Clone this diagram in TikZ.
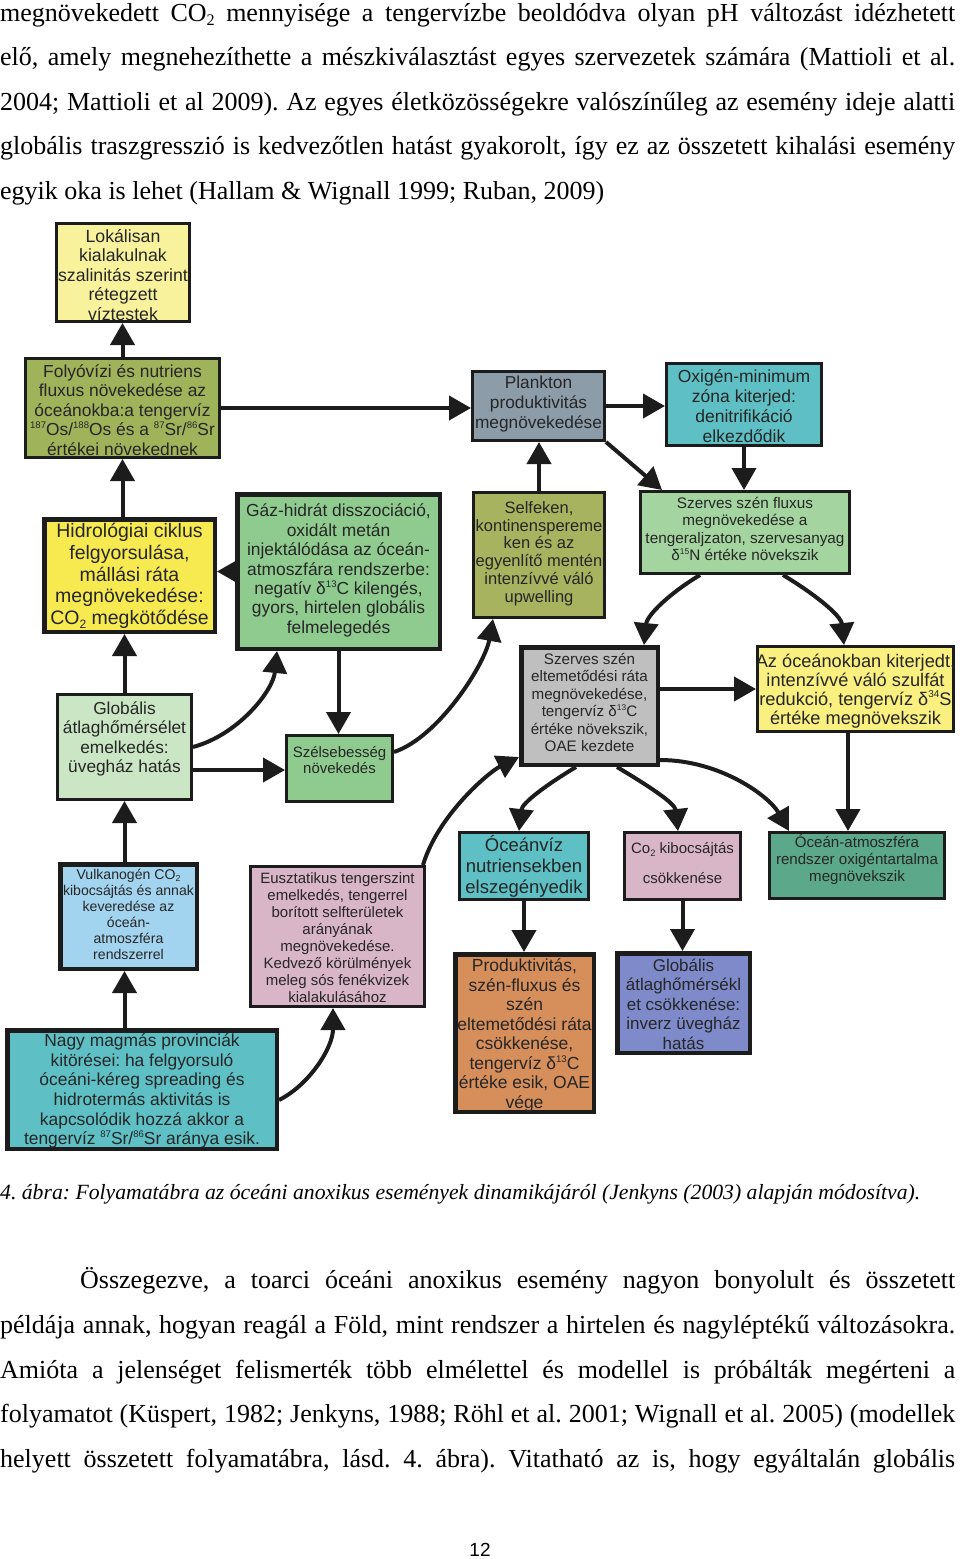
\documentclass[tikz,border=0pt]{standalone}
\usepackage{fontspec}
\setmainfont{Liberation Serif}
\setsansfont{Liberation Sans}
\usepackage{graphicx}
\usetikzlibrary{arrows.meta,calc}
\frenchspacing
\definecolor{bordc}{HTML}{1C1C1C}
\definecolor{txtc}{HTML}{262626}
\definecolor{cLok}{HTML}{F9F29D}
\definecolor{cFoly}{HTML}{9FB35A}
\definecolor{cPlank}{HTML}{8C9CA9}
\definecolor{cTeal}{HTML}{5EBFC4}
\definecolor{cSelf}{HTML}{A7B35E}
\definecolor{cFlux}{HTML}{A4D49F}
\definecolor{cHidro}{HTML}{F7EA50}
\definecolor{cGaz}{HTML}{8FCB8F}
\definecolor{cGlob}{HTML}{CBE6C4}
\definecolor{cGray}{HTML}{BFBFBF}
\definecolor{cAzoc}{HTML}{F9F07F}
\definecolor{cPink}{HTML}{D9B5C8}
\definecolor{cOcat}{HTML}{5BA98A}
\definecolor{cProd}{HTML}{D68E5B}
\definecolor{cPeri}{HTML}{7F8ACA}
\definecolor{cVulk}{HTML}{A3D4EF}
\newcommand{\supx}[1]{\raisebox{0.42em}{\scalebox{0.55}{#1}}}
\newcommand{\subx}[1]{\raisebox{-0.18em}{\scalebox{0.62}{#1}}}
\newcommand{\fs}[2]{\sffamily\fontsize{#1}{#2}\selectfont}
\newcommand{\bodyfont}{\fontsize{26}{26}\selectfont\spaceskip=6.5pt plus 5pt minus 2.6pt\relax}
\begin{document}
\begin{tikzpicture}[x=1pt,y=-1pt,
  bx/.style={draw=bordc, line width=3.2pt, inner sep=0pt, rectangle},
  bxk/.style={draw=bordc, line width=4.5pt, inner sep=0pt, rectangle},
  tx/.style={align=center, inner sep=0pt, text=txtc},
  arr/.style={draw=bordc, line width=4pt, -{Triangle[width=24pt,length=22pt]}},
  body/.style={anchor=base west, inner sep=0pt, font=\bodyfont, text=black}]
\useasboundingbox (0,0) rectangle (960,1559);
\fill[white] (0,0) rectangle (960,1559);

% ---------- body text ----------
\node[body] (l1) at (0,21) {\makebox[955pt][s]{megnövekedett CO\subx{2} mennyisége a tengervízbe beoldódva olyan pH változást idézhetett}};
\node[body] (l2) at (0,65.5) {\makebox[955pt][s]{elő, amely megnehezíthette a mészkiválasztást egyes szervezetek számára (Mattioli et al.}};
\node[body] (l3) at (0,110) {\makebox[955pt][s]{2004; Mattioli et al 2009). Az egyes életközösségekre valószínűleg az esemény ideje alatti}};
\node[body] (l4) at (0,154.5) {\makebox[955pt][s]{globális traszgresszió is kedvezőtlen hatást gyakorolt, így ez az összetett kihalási esemény}};
\node[body] (l5) at (0,199) {egyik oka is lehet (Hallam \& Wignall 1999; Ruban, 2009)};

\node[anchor=base west, inner sep=0pt] (cap) at (0,1199) {\resizebox{920pt}{!}{\itshape 4. ábra: Folyamatábra az óceáni anoxikus események dinamikájáról (Jenkyns (2003) alapján módosítva).}};

\node[body] (p1) at (80,1288) {\makebox[875pt][s]{Összegezve, a toarci óceáni anoxikus esemény nagyon bonyolult és összetett}};
\node[body] (p2) at (0,1333) {\makebox[955pt][s]{példája annak, hogyan reagál a Föld, mint rendszer a hirtelen és nagyléptékű változásokra.}};
\node[body] (p3) at (0,1378) {\makebox[955pt][s]{Amióta a jelenséget felismerték több elmélettel és modellel is próbálták megérteni a}};
\node[body] (p4) at (0,1422) {\makebox[955pt][s]{folyamatot (Küspert, 1982; Jenkyns, 1988; Röhl et al. 2001; Wignall et al. 2005) (modellek}};
\node[body] (p5) at (0,1467) {\makebox[955pt][s]{helyett összetett folyamatábra, lásd. 4. ábra). Vitatható az is, hogy egyáltalán globális}};
\node[anchor=base, inner sep=0pt, font=\fs{19}{19}] (pg) at (480,1556) {12};

% ---------- boxes ----------
\node[bx, fill=cLok, minimum width=132.8pt, minimum height=97.8pt] (lok) at (123,272.5) {};
\node[bx, fill=cFoly, minimum width=193.8pt, minimum height=98.8pt] (foly) at (122.5,408) {};
\node[bx, fill=cPlank, minimum width=131.8pt, minimum height=68.8pt] (plank) at (538.5,406) {};
\node[bx, fill=cTeal, minimum width=154.8pt, minimum height=81.8pt] (oxi) at (744,404.5) {};
\node[bx, fill=cFlux, minimum width=208.8pt, minimum height=81.8pt] (flux) at (745,532.5) {};
\node[bx, fill=cSelf, minimum width=130.8pt, minimum height=124.8pt] (self) at (539,555) {};
\node[bxk, fill=cHidro, minimum width=170.5pt, minimum height=112.5pt] (hidro) at (129.5,575.5) {};
\node[bxk, fill=cGaz, minimum width=202.5pt, minimum height=154.5pt] (gaz) at (338.5,571.5) {};
\node[bx, fill=cGlob, minimum width=133.8pt, minimum height=104.8pt] (glob) at (124.5,747) {};
\node[bx, fill=cGaz, minimum width=105.8pt, minimum height=65.8pt] (szel) at (339.5,768.5) {};
\node[bxk, fill=cGray, minimum width=136.5pt, minimum height=117.5pt] (gray) at (589.5,706) {};
\node[bx, fill=cAzoc, minimum width=195.8pt, minimum height=84.8pt] (azoc) at (855.5,689) {};
\node[bx, fill=cTeal, minimum width=128.8pt, minimum height=66.8pt] (ocv) at (524,866) {};
\node[bx, fill=cPink, minimum width=115.8pt, minimum height=66.8pt] (co2k) at (682.5,866) {};
\node[bx, fill=cOcat, minimum width=174.8pt, minimum height=65.8pt] (ocat) at (857,865.5) {};
\node[bxk, fill=cProd, minimum width=138.5pt, minimum height=157.5pt] (prod) at (524.5,1033) {};
\node[bxk, fill=cPeri, minimum width=132.5pt, minimum height=99.5pt] (globcs) at (683.5,1003) {};
\node[bxk, fill=cVulk, minimum width=136.5pt, minimum height=104.5pt] (vulk) at (128.5,916.5) {};
\node[bx, fill=cPink, minimum width=173.8pt, minimum height=139.8pt] (eusz) at (337.5,936.5) {};
\node[bxk, fill=cTeal, minimum width=269.5pt, minimum height=118.5pt] (nagy) at (142,1089.5) {};

% ---------- straight connectors ----------
\draw[arr] (foly.north) -- (foly.north |- lok.south);
\draw[arr] (hidro.north -| foly.south) -- (foly.south);
\draw[arr] (glob.north) -- (glob.north |- hidro.south);
\draw[arr] (vulk.north -| glob.south) -- (glob.south);
\draw[arr] (nagy.north -| glob.south) -- (vulk.south -| glob.south);
\draw[arr] (foly.east) -- (foly.east -| plank.west);
\draw[arr] (plank.east) -- (plank.east -| oxi.west);
\draw[arr] (oxi.south) -- (oxi.south |- flux.north);
\draw[arr] (self.north) -- (self.north |- plank.south);
\draw[arr] (gaz.west) -- (gaz.west -| hidro.east);
\coordinate (globr) at ($(glob.south east)+(0,-31)$);
\draw[arr] (globr) -- (globr -| szel.west);
\draw[arr] (gaz.south) -- (gaz.south |- szel.north);
\draw[arr] (azoc.west -| gray.east) -- (azoc.west);
\coordinate (azocb) at ($(azoc.south)+(-7.5,0)$);
\draw[arr] (azocb) -- (azocb |- ocat.north);
\draw[arr] (ocv.south) -- (ocv.south |- prod.north);
\draw[arr] (co2k.south) -- (co2k.south |- globcs.north);
\draw[arr] (plank.south east) -- ($(flux.north west)+(23,0)$);

% ---------- curved connectors ----------
\draw[arr] (glob.east) .. controls +(45,-12) and +(-4,40) .. ($(gaz.south west)+(42,0)$);
\draw[arr] ($(szel.north east)+(0,18)$) .. controls +(45,-15) and +(-8,45) .. ($(self.south west)+(21,0)$);
\draw[arr] ($(eusz.north east)+(-3,0)$) .. controls +(15,-50) and +(-30,15) .. ($(gray.south west)+(0,-10)$);
\draw[arr] ($(nagy.south east)+(0,-51)$) .. controls +(30,-15) and +(0,40) .. ($(eusz.south)+(-4.5,0)$);
\draw[arr] ($(flux.south west)+(61,0)$) .. controls +(-30,18) and +(3,-30) .. ($(gray.north east)+(-16,0)$);
\draw[arr] ($(flux.south west)+(144,0)$) .. controls +(30,18) and +(-3,-30) .. ($(azoc.north west)+(88,0)$);
\draw[arr] ($(gray.south west)+(57,0)$) .. controls +(-30,18) and +(3,-28) .. ($(ocv.north west)+(61,0)$);
\draw[arr] ($(gray.south west)+(98,0)$) .. controls +(30,18) and +(-3,-28) .. ($(co2k.north west)+(55,0)$);
\draw[arr] ($(gray.south east)+(0,-7)$) .. controls +(60,0) and +(-20,-35) .. ($(ocat.north west)+(21,0)$);

% ---------- box texts ----------
\node[tx, font=\fs{17.7}{19.5}] (lokt) at (123,275) {Lokálisan\\kialakulnak\\szalinitás szerint\\rétegzett\\víztestek};
\node[tx, font=\fs{17.4}{19.5}] (folyt) at (122.5,410) {Folyóvízi és nutriens\\fluxus növekedése az\\óceánokba:a tengervíz\\\supx{187}Os/\supx{188}Os és a \supx{87}Sr/\supx{86}Sr\\értékei növekednek};
\node[tx, font=\fs{17.3}{20}] (plankt) at (538.5,404.5) {Plankton\\produktivitás\\megnövekedése};
\node[tx, font=\fs{17.5}{20}] (oxit) at (744,406) {Oxigén-minimum\\zóna kiterjed:\\denitrifikáció\\elkezdődik};
\node[tx, font=\fs{15.3}{17.3}] (fluxt) at (745,529) {Szerves szén fluxus\\megnövekedése a\\tengeraljzaton, szervesanyag\\δ\supx{15}N értéke növekszik};
\node[tx, font=\fs{16.5}{17.8}] (selft) at (539,553.5) {Selfeken,\\kontinenspereme\\ken és az\\egyenlítő mentén\\intenzívvé váló\\upwelling};
\node[tx, font=\fs{19.5}{21.7}] (hidrot) at (129.5,576) {Hidrológiai ciklus\\felgyorsulása,\\mállási ráta\\megnövekedése:\\CO\subx{2} megkötődése};
\node[tx, font=\fs{17.4}{19.4}] (gazt) at (338.5,570.5) {Gáz-hidrát disszociáció,\\oxidált metán\\injektálódása az óceán-\\atmoszfára rendszerbe:\\negatív δ\supx{13}C kilengés,\\gyors, hirtelen globális\\felmelegedés};
\node[tx, font=\fs{17.3}{19.5}] (globt) at (124.5,739) {Globális\\átlaghőmérsélet\\emelkedés:\\üvegház hatás};
\node[tx, font=\fs{15}{15.5}] (szelt) at (339.5,760) {Szélsebesség\\növekedés};
\node[tx, font=\fs{15.2}{17.5}] (grayt) at (589.5,702.5) {Szerves szén\\eltemetődési ráta\\megnövekedése,\\tengervíz δ\supx{13}C\\értéke növekszik,\\OAE kezdete};
\node[tx, font=\fs{18.2}{19.2}] (azoct) at (855.5,691) {Az óceánokban kiterjedt,\\intenzívvé váló szulfát\\redukció, tengervíz δ\supx{34}S\\értéke megnövekszik};
\node[tx, font=\fs{18.5}{21}] (ocvt) at (524,866) {Óceánvíz\\nutriensekben\\elszegényedik};
\node[tx, font=\fs{15}{30}] (co2kt) at (682.5,863) {Co\subx{2} kibocsájtás\\csökkenése};
\node[tx, font=\fs{15.1}{17}] (ocatt) at (857,859.5) {Óceán-atmoszféra\\rendszer oxigéntartalma\\megnövekszik};
\node[tx, font=\fs{17.5}{19.5}] (prodt) at (524.5,1035.5) {Produktivitás,\\szén-fluxus és\\szén\\eltemetődési ráta\\csökkenése,\\tengervíz δ\supx{13}C\\értéke esik, OAE\\vége};
\node[tx, font=\fs{17}{19.5}] (globcst) at (683.5,1004) {Globális\\átlaghőmérsékl\\et csökkenése:\\inverz üvegház\\hatás};
\node[tx, font=\fs{14.1}{16}] (vulkt) at (128.5,914) {Vulkanogén CO\subx{2}\\kibocsájtás és annak\\keveredése az\\óceán-\\atmoszféra\\rendszerrel};
\node[tx, font=\fs{15}{17.1}] (euszt) at (337.5,937.5) {Eusztatikus tengerszint\\emelkedés, tengerrel\\borított selfterületek\\arányának\\megnövekedése.\\Kedvező körülmények\\meleg sós fenékvizek\\kialakulásához};
\node[tx, font=\fs{17.4}{19.6}] (nagyt) at (142,1091) {Nagy magmás provinciák\\kitörései: ha felgyorsuló\\óceáni-kéreg spreading és\\hidrotermás aktivitás is\\kapcsolódik hozzá akkor a\\tengervíz \supx{87}Sr/\supx{86}Sr aránya esik.};
\end{tikzpicture}
\end{document}
